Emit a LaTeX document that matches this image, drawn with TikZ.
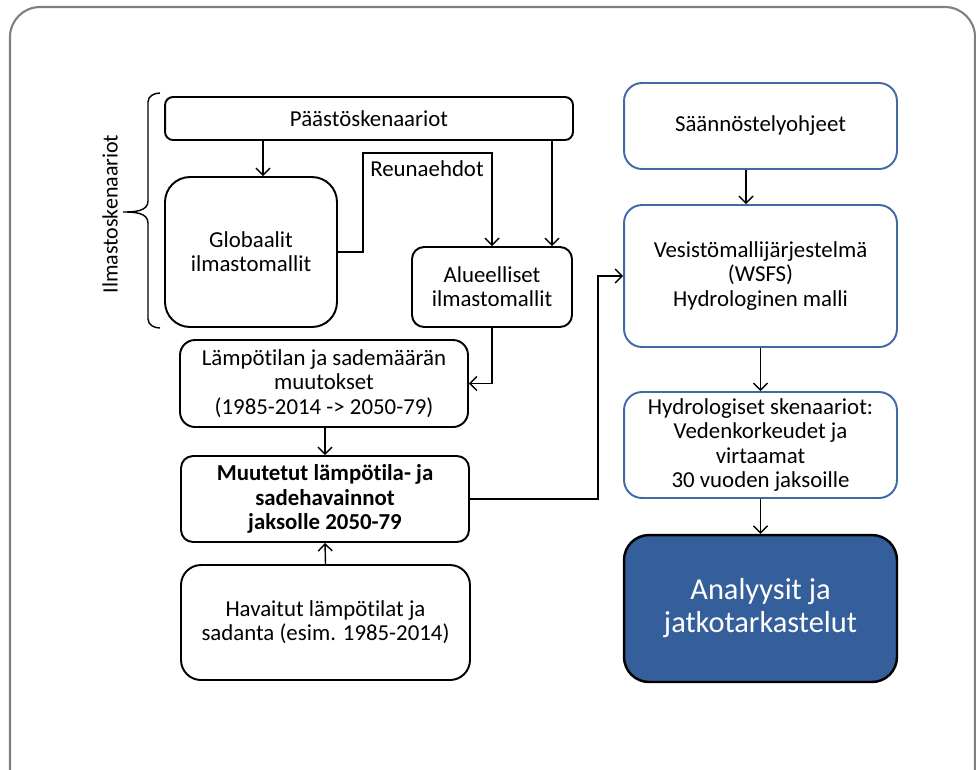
\documentclass[tikz,border=0pt]{standalone}
\usepackage{fontspec}
\setmainfont{Carlito}[Ligatures=NoCommon]
\usetikzlibrary{positioning,arrows.meta,calc}
\definecolor{frameGray}{RGB}{128,128,128}
\definecolor{boxBlue}{RGB}{65,105,165}
\definecolor{fillBlue}{RGB}{53,95,155}
\begin{document}
\begin{tikzpicture}[
		x=0.02cm,y=-0.02cm,
		box/.style={
			draw,
			line width=1.1pt,
			align=center,
			inner sep=2pt,
			font=\fontsize{13}{13.8}\selectfont
		},
		blackbox/.style={box,rounded corners=#1},
		bluebox/.style={box,draw=boxBlue,rounded corners=0.36cm,minimum width=5.46cm},
		resultbox/.style={box,fill=fillBlue,text=white,line width=1.4pt,rounded corners=0.5cm,
			minimum width=5.46cm,font=\fontsize{17.3}{18.8}\selectfont},
		conn/.style={line width=0.8pt},
		>={Straight Barb[length=4pt,width=8pt]}
		]
		\useasboundingbox (0,0) rectangle (976,769);
		\clip (0,0) rectangle (976,769);
		% frame
		\draw[frameGray,line width=1.2pt,rounded corners=0.6cm] (10,7) rectangle (975,830);
		% left column
		\node[blackbox=0.16cm,minimum width=8.16cm,minimum height=0.86cm] (paasto) at (369,118.5) {Päästöskenaariot};
		\node[blackbox=0.5cm,minimum width=3.44cm,minimum height=3cm] (glob) at (251,252) {Globaalit\\ilmastomallit};
		\node[blackbox=0.24cm,minimum width=3.2cm,minimum height=1.6cm] (alue) at (492,287) {Alueelliset\\ilmastomallit};
		\node[blackbox=0.3cm,minimum width=5.76cm,minimum height=1.74cm] (lampo) at (324,383.5) {Lämpötilan ja sademäärän\\muutokset\\(1985-2014 -> 2050-79)};
		\node[blackbox=0.24cm,minimum width=5.76cm,minimum height=1.72cm,font=\fontsize{13}{13.8}\selectfont\bfseries] (muut) at (325,499) {Muutetut lämpötila- ja\\sadehavainnot\\jaksolle 2050-79};
		\node[blackbox=0.4cm,minimum width=5.78cm,minimum height=2.3cm] (hav) at (325.5,622.5) {Havaitut lämpötilat ja\\sadanta (esim. 1985-2014)};
		\node[font=\fontsize{13}{14}\selectfont] (reuna) at (427,169) {Reunaehdot};
		\node[rotate=90,font=\fontsize{12.5}{15}\selectfont] (ilmasto) at (110,214) {Ilmastoskenaariot};
		% right column
		\node[bluebox,minimum height=1.72cm] (saan) at (760.5,126) {Säännöstelyohjeet};
		\node[bluebox,minimum height=2.84cm] (ves) at (760.5,276) {Vesistömallijärjestelmä\\(WSFS)\\Hydrologinen malli};
		\node[bluebox,minimum height=2.12cm] (hydro) at (760.5,445) {Hydrologiset skenaariot:\\Vedenkorkeudet ja\\virtaamat\\30 vuoden jaksoille};
		\node[resultbox,minimum height=2.94cm] (anal) at (760.5,608.5) {Analyysit ja\\jatkotarkastelut};
		% brace
		\draw[conn] (160,93) to[out=180,in=90] (148,102) -- (148,201)
			to[out=-90,in=0] (123,212) to[out=0,in=90] (148,223) -- (148,319)
			to[out=-90,in=180] (160,328);
		% arrows
		\draw[conn,->] ([xshift=0.24cm]paasto.south -| glob.north) -- ([xshift=0.24cm]glob.north);
		\draw[conn,->] ([xshift=1.2cm]paasto.south -| alue.north) -- ([xshift=1.2cm]alue.north);
		\draw[conn,->] (glob.east) -- ++(25,0) |- (alue.north |- 0,153) -- (alue.north);
		\draw[conn,->] (alue.south) |- (lampo.east);
		\draw[conn,->] (lampo.south -| muut.north) -- (muut.north);
		\draw[conn,->] (hav.north) -- (muut.south);
		\draw[conn,->] (muut.east) -- ++(128,0) |- (ves.west);
		\draw[conn,->] ([xshift=-0.29cm]saan.south) -- ([xshift=-0.29cm]ves.north);
		\draw[conn,->] (ves.south) -- (hydro.north);
		\draw[conn,->] (hydro.south) -- (anal.north);
		\end{tikzpicture}
\end{document}
